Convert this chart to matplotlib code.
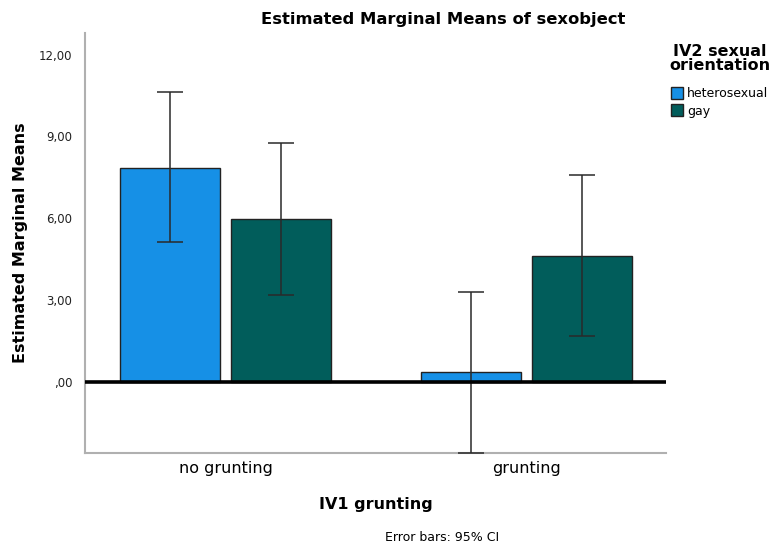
import numpy as np
import matplotlib.pyplot as plt
from matplotlib.patches import Patch

groups = ['no grunting', 'grunting']
series = ['heterosexual', 'gay']
means_hetero = [7.85, 0.34]
ci_low_hetero = [5.14, -2.62]
ci_high_hetero = [10.64, 3.30]
means_gay = [5.98, 4.62]
ci_low_gay = [3.19, 1.69]
ci_high_gay = [8.77, 7.60]
yticks = [0, 3, 6, 9, 12]
ytick_labels = [',00', '3,00', '6,00', '9,00', '12,00']

colors = ['#1690e6', '#015d5b']
plt.rcParams['font.family'] = ['DejaVu Sans']

fig = plt.figure(figsize=(7.84, 5.51), dpi=100)
ax = fig.add_axes([0.1084, 0.1779, 0.7411, 0.7622])

x = np.arange(len(groups))
width = 0.332
offset = 0.184
data = [(means_hetero, ci_low_hetero, ci_high_hetero),
        (means_gay, ci_low_gay, ci_high_gay)]
for i, (m, lo, hi) in enumerate(data):
    pos = x + (i * 2 - 1) * offset
    m = np.array(m)
    ax.bar(pos, m, width, color=colors[i], edgecolor='#222222', linewidth=1.0, zorder=2)
    yerr = [m - np.array(lo), np.array(hi) - m]
    ax.errorbar(pos, m, yerr=yerr, fmt='none', ecolor='#2a2a2a', elinewidth=1.1,
                capsize=9.7, capthick=1.1, zorder=3, clip_on=True)

ax.axhline(0, color='black', linewidth=2.6, zorder=4)
ax.set_xlim(-0.467, 1.463)
ax.set_ylim(-2.62, 12.8)
ax.set_yticks(yticks)
ax.set_yticklabels(ytick_labels)
ax.set_xticks(x)
ax.set_xticklabels(groups, fontsize=11.5)
ax.tick_params(axis='y', length=0, labelsize=8.5, pad=9, colors='#222222')
ax.tick_params(axis='x', length=0, pad=6)
for s in ['top', 'right']:
    ax.spines[s].set_visible(False)
for s in ['left', 'bottom']:
    ax.spines[s].set_color('#b0b0b0')
    ax.spines[s].set_linewidth(1.5)

ax.set_ylabel('Estimated Marginal Means', fontsize=11.5, fontweight='bold', labelpad=8)
ax.set_xlabel('IV1 grunting', fontsize=11.5, fontweight='bold', labelpad=15)
fig.text(0.565, 0.965, 'Estimated Marginal Means of sexobject', ha='center', va='center',
         fontsize=11.8, fontweight='bold')
fig.text(0.564, 0.025, 'Error bars: 95% CI', ha='center', va='center', fontsize=9)

handles = [Patch(facecolor=c, edgecolor='#222222', label=s) for c, s in zip(colors, series)]
leg = fig.legend(handles=handles, title='IV2 sexual\norientation', loc='upper center',
                 bbox_to_anchor=(0.918, 0.92), frameon=False, fontsize=9,
                 handlelength=1.0, handleheight=1.1, handletextpad=0.3, labelspacing=0.35,
                 borderaxespad=0, borderpad=0, alignment='center')
leg.get_title().set_fontweight('bold')
leg.get_title().set_fontsize(11.5)
leg.get_title().set_linespacing(0.9)
leg.get_title().set_multialignment('center')
leg._legend_box.sep = 10

fig.savefig('out.png', dpi=100)
